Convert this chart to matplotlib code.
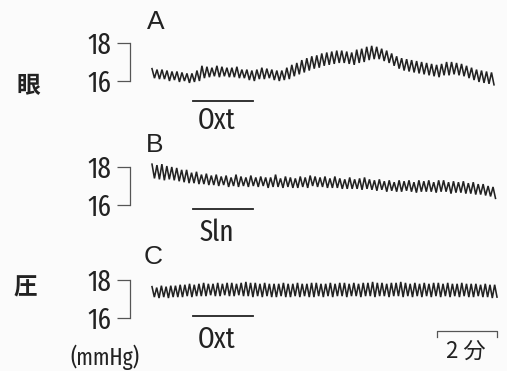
import numpy as np
import matplotlib
matplotlib.use("Agg")
import matplotlib.pyplot as plt
from matplotlib import font_manager, transforms
from matplotlib.font_manager import FontProperties

# ---------------- data (mmHg) ----------------
panel_labels = ["A", "B", "C"]
drug_labels = ["Oxt", "Sln", "Oxt"]
scale_ticks = [16, 18]
scale_tick_labels = ["16", "18"]
time_bar_label = "2 分"
unit_label = "(mmHg)"
side_labels = ["眼", "圧"]

# durations of the recordings (minutes)
A_dur = 11.4
B_dur = 11.45
C_dur = 11.5
# drug application window (minutes from trace start)
drug_window = [1.37, 3.37]
time_bar = [9.5, 11.5]

A_peaks = [16.65, 16.6, 16.6, 16.55, 16.5, 16.5, 16.45, 16.4, 16.4, 16.55,
           16.8, 16.75, 16.7, 16.8, 16.75, 16.7, 16.7, 16.75, 16.6, 16.6,
           16.55, 16.6, 16.7, 16.65, 16.6, 16.55, 16.55, 16.7, 16.85, 16.95,
           17.1, 17.2, 17.3, 17.35, 17.45, 17.5, 17.55, 17.6, 17.6, 17.55,
           17.5, 17.65, 17.7, 17.8, 17.85, 17.8, 17.7, 17.6, 17.45, 17.3,
           17.2, 17.15, 17.1, 17.05, 17.0, 16.95, 16.9, 16.85, 16.9, 17.0,
           17.0, 16.95, 16.9, 16.8, 16.7, 16.6, 16.55, 16.5, 16.45]
A_troughs = [16.15, 16.1, 16.1, 16.0, 16.05, 15.95, 16.0, 15.9, 15.95, 16.0,
             16.15, 16.2, 16.25, 16.2, 16.25, 16.2, 16.2, 16.15, 16.15, 16.05,
             16.0, 16.1, 16.1, 16.15, 16.05, 16.0, 16.05, 16.1, 16.25, 16.35,
             16.45, 16.55, 16.65, 16.7, 16.8, 16.85, 16.9, 16.95, 16.95, 16.9,
             16.85, 16.95, 17.0, 17.1, 17.15, 17.15, 17.05, 16.95, 16.8, 16.65,
             16.55, 16.5, 16.45, 16.4, 16.35, 16.3, 16.25, 16.2, 16.3, 16.3,
             16.35, 16.3, 16.25, 16.15, 16.05, 15.95, 15.9, 15.85, 15.8]

B_peaks = [18.15, 18.1, 18.15, 18.05, 18.0, 17.95, 17.85, 17.85,
           17.7, 17.75, 17.6, 17.65, 17.55, 17.6, 17.5, 17.55,
           17.45, 17.6, 17.5, 17.45, 17.55, 17.45, 17.5, 17.45,
           17.45, 17.6, 17.4, 17.5, 17.45, 17.4, 17.5, 17.45,
           17.55, 17.5, 17.45, 17.5, 17.4, 17.5, 17.4, 17.35,
           17.45, 17.35, 17.4, 17.45, 17.35, 17.3, 17.35, 17.25,
           17.3, 17.2, 17.3, 17.25, 17.3, 17.2, 17.3, 17.25,
           17.3, 17.2, 17.3, 17.3, 17.2, 17.25, 17.2, 17.25,
           17.15, 17.2, 17.1, 17.1, 17.0, 16.95]
B_troughs = [17.4, 17.35, 17.3, 17.35, 17.3, 17.25, 17.2, 17.15,
             17.15, 17.1, 17.1, 17.05, 17.05, 17.0, 17.05, 16.95,
             17.0, 16.95, 17.0, 16.95, 17.0, 16.95, 17.0, 16.9,
             16.95, 16.95, 16.9, 16.95, 16.9, 16.9, 16.95, 16.9,
             17.0, 16.95, 16.95, 16.9, 16.9, 16.9, 16.85, 16.85,
             16.85, 16.85, 16.8, 16.85, 16.8, 16.75, 16.8, 16.7,
             16.75, 16.7, 16.7, 16.75, 16.7, 16.65, 16.7, 16.7,
             16.7, 16.65, 16.7, 16.7, 16.6, 16.65, 16.65, 16.6,
             16.6, 16.55, 16.55, 16.5, 16.45, 16.35]

C_peaks = [17.65, 17.6, 17.7, 17.65, 17.7, 17.7, 17.75, 17.75, 17.8, 17.75,
           17.8, 17.85, 17.8, 17.8, 17.85, 17.8, 17.85, 17.85, 17.8, 17.85,
           17.9, 17.85, 17.85, 17.8, 17.85, 17.8, 17.8, 17.8, 17.85, 17.8,
           17.8, 17.85, 17.8, 17.8, 17.85, 17.85, 17.8, 17.8, 17.85, 17.8,
           17.85, 17.85, 17.8, 17.85, 17.8, 17.85, 17.85, 17.9, 17.85, 17.85,
           17.8, 17.85, 17.85, 17.9, 17.85, 17.8, 17.85, 17.8, 17.85, 17.8,
           17.85, 17.85, 17.8, 17.85, 17.8, 17.8, 17.85, 17.8, 17.8, 17.8,
           17.75, 17.8, 17.75, 17.75]
C_troughs = [17.1, 17.05, 17.1, 17.05, 17.1, 17.1, 17.1, 17.15, 17.1, 17.15,
             17.15, 17.15, 17.2, 17.15, 17.15, 17.2, 17.15, 17.15, 17.2, 17.15,
             17.15, 17.1, 17.15, 17.1, 17.15, 17.1, 17.1, 17.15, 17.1, 17.1,
             17.15, 17.1, 17.15, 17.1, 17.1, 17.15, 17.1, 17.15, 17.1, 17.15,
             17.15, 17.1, 17.15, 17.15, 17.1, 17.15, 17.15, 17.1, 17.15, 17.15,
             17.1, 17.15, 17.15, 17.1, 17.15, 17.1, 17.15, 17.1, 17.15, 17.1,
             17.15, 17.1, 17.15, 17.1, 17.15, 17.1, 17.15, 17.1, 17.1, 17.15,
             17.1, 17.1, 17.05, 17.1]

# ---------------- figure ----------------
W, H = 507, 371
fig = plt.figure(figsize=(W / 100, H / 100), dpi=100)
fig.patch.set_facecolor("#fbfbfb")
INK = "#222222"


def pick_condensed():
    best, best_score = None, 0
    for f in font_manager.fontManager.ttflist:
        if f.style != "normal":
            continue
        w = f.weight
        if not isinstance(w, int):
            w = {"normal": 400, "regular": 400, "book": 400, "medium": 500}.get(str(w).lower(), 0)
        if w not in (400,):
            continue
        n = f.name.lower()
        s = str(f.stretch).lower()
        fn = f.fname.lower().replace("-", "").replace("_", "")
        score = 0
        if "extracondensed" in fn or "extra-condensed" in s or "extracondensed" in n.replace(" ", ""):
            score = 4
        elif ("condensed" in fn or "condensed" in s or "condensed" in n) and "semi" not in fn and "semi" not in s:
            score = 3
        elif "narrow" in n or "narrow" in fn:
            score = 2
        elif "semicondensed" in fn or "semi-condensed" in s:
            score = 1
        if score > best_score:
            best, best_score = f, score
    return best, best_score


fent, fscore = pick_condensed()
if fent is not None:
    base_fp = FontProperties(fname=fent.fname)
else:
    base_fp = FontProperties(family="DejaVu Sans", stretch="condensed")
dsize = {4: 21, 3: 19, 2: 18, 1: 16}.get(fscore, 16)


def fp(size):
    p = base_fp.copy()
    p.set_size(size)
    return p


def fy(p):
    return 1 - p / H


# layout per panel: y pixel of 18 and 16 marks, drug bar y, drug label y, label A/B/C pos
layout = [
    dict(y18=43, y16=81, bar=101, txt=121, lab=(156, 22)),
    dict(y18=167, y16=205, bar=209, txt=233, lab=(155, 145)),
    dict(y18=280, y16=318, bar=316, txt=340, lab=(153, 257)),
]
traces = [(A_peaks, A_troughs, A_dur), (B_peaks, B_troughs, B_dur), (C_peaks, C_troughs, C_dur)]

x0_px, x1_px = 152, 497
for i, (L, (pk, tr, dur)) in enumerate(zip(layout, traces)):
    ax = fig.add_axes([x0_px / W, fy(L["y16"]), (x1_px - x0_px) / W, (L["y16"] - L["y18"]) / H])
    ax.set_xlim(0, 11.5)
    ax.set_ylim(16, 18)
    ax.patch.set_alpha(0)
    for s in ("top", "right", "bottom"):
        ax.spines[s].set_visible(False)
    ax.spines["left"].set_bounds(16, 18)
    ax.spines["left"].set_position(("outward", 22 * 0.72))
    ax.spines["left"].set_linewidth(0.9)
    ax.spines["left"].set_color("#555555")
    ax.set_xticks([])
    ax.set_yticks(scale_ticks)
    ax.set_yticklabels(scale_tick_labels, fontproperties=fp(dsize), color=INK)
    ax.tick_params(axis="y", length=13 * 0.72, width=0.9, color="#555555", pad=6 * 0.72)

    n = min(len(pk), len(tr))
    y = np.empty(2 * n)
    y[0::2] = pk[:n]
    y[1::2] = tr[:n]
    t = np.linspace(0, dur, 2 * n)
    ax.plot(t, y, color=INK, lw=1.15, clip_on=False, solid_joinstyle="miter")

    trans = transforms.blended_transform_factory(ax.transData, fig.transFigure)
    ax.plot(drug_window, [fy(L["bar"])] * 2, transform=trans, color=INK, lw=1.3, clip_on=False)
    ax.text(drug_window[0] + 0.78, fy(L["txt"]), drug_labels[i], transform=trans,
            ha="center", va="center", fontproperties=fp(dsize), color=INK)

    fig.text(L["lab"][0] / W, fy(L["lab"][1]), panel_labels[i], ha="center", va="center",
             fontsize=19, family="Liberation Sans", color=INK)

    if i == 2:
        ax.plot([time_bar[0], time_bar[0], time_bar[1], time_bar[1]],
                [fy(337), fy(331), fy(331), fy(337)], transform=trans,
                color="#555555", lw=0.9, clip_on=False)
        ax.text(np.mean(time_bar) - 0.05, fy(351), time_bar_label, transform=trans,
                ha="center", va="center", fontsize=16,
                family=["Noto Sans CJK JP", "DejaVu Sans"], color=INK)

fig.text(105 / W, fy(357), unit_label, ha="center", va="center",
         fontproperties=fp(dsize - 4), color=INK)
fig.text(28 / W, fy(86), side_labels[0], ha="center", va="center", fontsize=17,
         family=["Noto Sans CJK JP"], weight="bold", color=INK)
fig.text(25 / W, fy(287), side_labels[1], ha="center", va="center", fontsize=17,
         family=["Noto Sans CJK JP"], weight="bold", color=INK)

fig.savefig("out.png", dpi=100, facecolor=fig.get_facecolor())
